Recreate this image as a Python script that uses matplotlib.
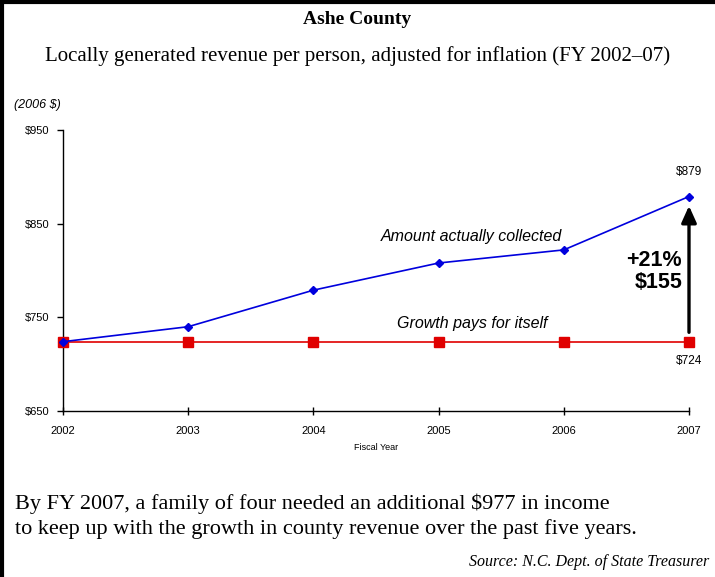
import matplotlib
matplotlib.use("Agg")
import matplotlib.pyplot as plt
from matplotlib.lines import Line2D

# data
years = [2002, 2003, 2004, 2005, 2006, 2007]
collected = [724, 740, 779, 808, 822, 879]
pays_itself = [724, 724, 724, 724, 724, 724]
yticks = [650, 750, 850, 950]

sans = "Liberation Sans"
serif = "Liberation Serif"

fig = plt.figure(figsize=(7.15, 5.77), dpi=100)
ax = fig.add_axes([63/715, 1-411/577, 626/715, 281/577])

ax.plot(years, pays_itself, color="#e00000", lw=1.2, marker="s", ms=6.5, clip_on=False, zorder=3)
ax.plot(years, collected, color="#0000dd", lw=1.2, marker="D", ms=4, clip_on=False, zorder=4)

ax.set_xlim(2002, 2007)
ax.set_ylim(650, 950)
ax.set_xticks(years)
ax.set_yticks(yticks)
ax.set_yticklabels(["$%d" % v for v in yticks])
for s in ["top", "right"]:
    ax.spines[s].set_visible(False)
for s in ["left", "bottom"]:
    ax.spines[s].set_linewidth(1.0)
ax.tick_params(axis="y", direction="out", length=4, width=1, labelsize=8, pad=6)
ax.tick_params(axis="x", direction="inout", length=6, width=1, labelsize=8, pad=8)
for lab in ax.get_xticklabels() + ax.get_yticklabels():
    lab.set_family(sans)
ax.set_xlabel("Fiscal Year", fontsize=6.5, family=sans, labelpad=5)

ax.text(2005.26, 836.5, "Amount actually collected", fontsize=11.5, style="italic",
        family=sans, ha="center", va="center")
ax.text(2005.27, 743, "Growth pays for itself", fontsize=11.5, style="italic",
        family=sans, ha="center", va="center")
ax.text(2007, 905, "$%d" % collected[-1], fontsize=8.5, family=sans, ha="center", va="center")
ax.text(2007, 703, "$%d" % pays_itself[-1], fontsize=8.5, family=sans, ha="center", va="center")
ax.text(2006.945, 799, "+21%\n$155", fontsize=15.5, fontweight="bold", family=sans,
        ha="right", va="center", linespacing=1.05)
ax.annotate("", xy=(2007, 869), xytext=(2007, 734),
            arrowprops=dict(arrowstyle="-|>,head_length=1.0,head_width=0.45",
                            color="black", lw=2.4, shrinkA=0, shrinkB=0))

fig.text(0.5, 1-20/577, "Ashe County", fontsize=14, fontweight="bold", family=serif,
         ha="center", va="center")
fig.text(0.5, 1-56/577, "Locally generated revenue per person, adjusted for inflation (FY 2002\u201307)",
         fontsize=15, family=serif, ha="center", va="center")
fig.text(14/715, 1-105/577, "(2006 $)", fontsize=9, style="italic", family=sans,
         ha="left", va="center")
fig.text(15/715, 1-504/577, "By FY 2007, a family of four needed an additional $977 in income",
         fontsize=16, family=serif, ha="left", va="center")
fig.text(15/715, 1-529/577, "to keep up with the growth in county revenue over the past five years.",
         fontsize=16, family=serif, ha="left", va="center")
fig.text(709/715, 1-562/577, "Source: N.C. Dept. of State Treasurer", fontsize=11.5,
         style="italic", family=serif, ha="right", va="center")

# frame lines on top and left
fig.add_artist(Line2D([2/715, 2/715], [0, 1], transform=fig.transFigure, color="black", lw=3))
fig.add_artist(Line2D([0, 1], [1-2/577, 1-2/577], transform=fig.transFigure, color="black", lw=3))

fig.savefig("out.png", dpi=100)
